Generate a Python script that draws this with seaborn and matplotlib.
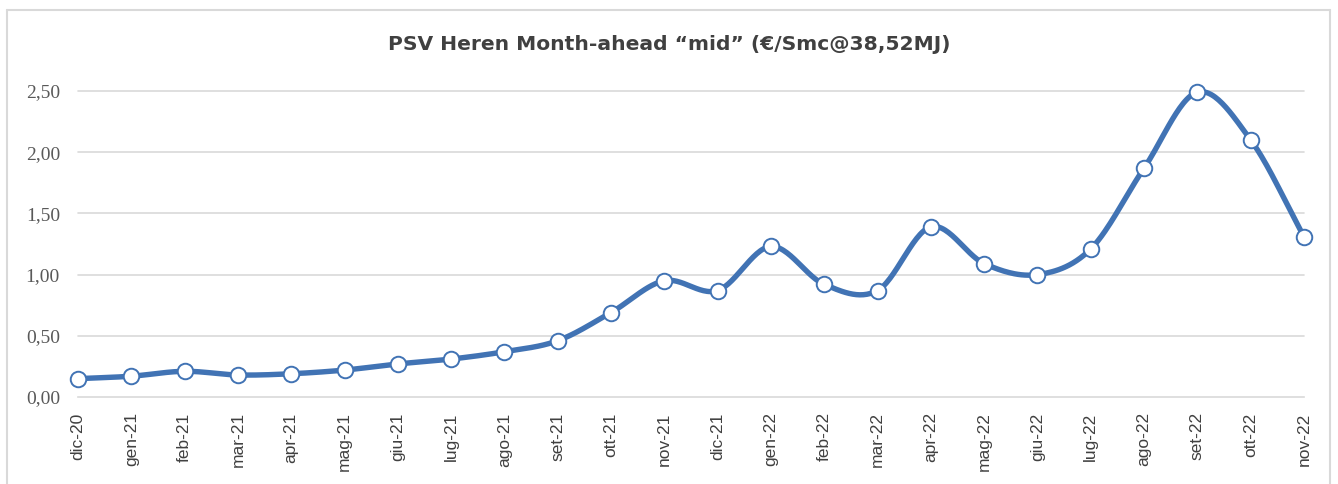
import numpy as np
import pandas as pd
import matplotlib
matplotlib.use("Agg")
import matplotlib.pyplot as plt
import seaborn as sns
from matplotlib.lines import Line2D

# Data
months = ["dic-20", "gen-21", "feb-21", "mar-21", "apr-21", "mag-21", "giu-21", "lug-21",
          "ago-21", "set-21", "ott-21", "nov-21", "dic-21", "gen-22", "feb-22", "mar-22",
          "apr-22", "mag-22", "giu-22", "lug-22", "ago-22", "set-22", "ott-22", "nov-22"]
prices = [0.15, 0.17, 0.21, 0.18, 0.19, 0.22, 0.27, 0.31,
          0.37, 0.46, 0.69, 0.95, 0.87, 1.23, 0.92, 0.87,
          1.39, 1.09, 1.00, 1.21, 1.87, 2.49, 2.10, 1.31]
y_ticks = [0.0, 0.5, 1.0, 1.5, 2.0, 2.5]

TITLE = "PSV Heren Month-ahead \u201cmid\u201d (\u20ac/Smc@38,52MJ)"
LINE_COLOR = "#4173B4"
GRID_COLOR = "#D9D9D9"


def smooth_curve(x, y, steps=30):
    """Catmull-Rom spline through the points (like Excel's smoothed line)."""
    x = np.asarray(x, float)
    y = np.asarray(y, float)
    px = np.concatenate([[2 * x[0] - x[1]], x, [2 * x[-1] - x[-2]]])
    py = np.concatenate([[2 * y[0] - y[1]], y, [2 * y[-1] - y[-2]]])
    xs, ys = [], []
    t = np.linspace(0, 1, steps, endpoint=False)
    for i in range(1, len(px) - 2):
        for arr, out in ((px, xs), (py, ys)):
            p0, p1, p2, p3 = arr[i - 1], arr[i], arr[i + 1], arr[i + 2]
            out.extend(0.5 * ((2 * p1) + (-p0 + p2) * t
                              + (2 * p0 - 5 * p1 + 4 * p2 - p3) * t ** 2
                              + (-p0 + 3 * p1 - 3 * p2 + p3) * t ** 3))
    xs.append(x[-1])
    ys.append(y[-1])
    return np.array(xs), np.array(ys)


sns.set_style("white")

df = pd.DataFrame({"pos": np.arange(len(months)), "price": prices})
sx, sy = smooth_curve(df["pos"], df["price"])
curve = pd.DataFrame({"pos": sx, "price": sy})

W, H = 1338, 484
fig = plt.figure(figsize=(W / 100, H / 100), dpi=100)
ax = fig.add_axes([78 / W, 1 - 397 / H, (1304 - 78) / W, (397 - 91) / H])

# outer chart border (open at the bottom, as in the cropped screenshot)
bx0, bx1, by = 7 / W, 1330 / W, 1 - 10 / H
for xs_, ys_ in [([bx0, bx0], [0, by]), ([bx0, bx1], [by, by]), ([bx1, bx1], [by, 0])]:
    fig.lines.append(Line2D(xs_, ys_, transform=fig.transFigure,
                            color=GRID_COLOR, linewidth=1.5))

for v in y_ticks[1:]:
    ax.axhline(v, color=GRID_COLOR, linewidth=1.2, zorder=0)

sns.lineplot(data=curve, x="pos", y="price", ax=ax, color=LINE_COLOR,
             linewidth=3.9, sort=False, estimator=None, zorder=3)
sns.scatterplot(data=df, x="pos", y="price", ax=ax, color="white",
                edgecolor=LINE_COLOR, linewidth=1.4, s=125, zorder=4)
for c in ax.collections:
    c.set_clip_on(False)
for l in ax.lines:
    l.set_clip_on(False)

ax.set_xlim(0, len(months) - 1)
ax.set_ylim(0, 2.5)
ax.set_xticks(df["pos"])
ax.set_xticklabels(months, rotation=90, fontsize=12.5, color="#404040",
                   family="Liberation Sans")
ax.set_yticks(y_ticks)
ax.set_yticklabels([f"{v:.2f}".replace(".", ",") for v in y_ticks],
                   fontsize=14, color="#595959", family="Liberation Serif")
ax.tick_params(axis="x", length=7, width=1.2, color=GRID_COLOR, pad=4)
ax.tick_params(axis="y", length=0, pad=13)
ax.set_xlabel("")
ax.set_ylabel("")

for side in ["top", "right", "left"]:
    ax.spines[side].set_visible(False)
ax.spines["bottom"].set_color(GRID_COLOR)
ax.spines["bottom"].set_linewidth(1.2)

fig.text(0.5 * (387 + 951) / W, 1 - 45 / H, TITLE, ha="center", va="center",
         fontsize=14.6, fontweight="bold", color="#404040", family="DejaVu Sans")

fig.savefig("out.png", dpi=100)
